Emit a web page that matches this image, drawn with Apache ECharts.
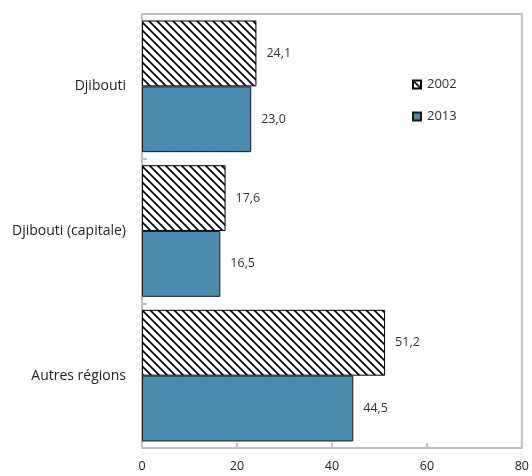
<!DOCTYPE html>
<html><head><meta charset="utf-8">
<script src="https://cdn.jsdelivr.net/npm/echarts@6/dist/echarts.min.js"></script>
<style>html,body{margin:0;padding:0;background:#fff}#c{width:532px;height:476px}</style>
</head><body><div id="c"></div>
<script>
const categories = ['Djibouti', 'Djibouti (capitale)', 'Autres régions'];
const seriesNames = ['2002', '2013'];
const values2002 = [24.1, 17.6, 51.2];
const values2013 = [23.0, 16.5, 44.5];
const xTicks = [0, 20, 40, 60, 80];

function hatch() {
  const s = 8;
  const c = document.createElement('canvas');
  c.width = s; c.height = s;
  const g = c.getContext('2d');
  g.fillStyle = '#fff'; g.fillRect(0, 0, s, s);
  g.strokeStyle = '#000'; g.lineWidth = 1.7;
  g.beginPath();
  g.moveTo(-1, -1); g.lineTo(s + 1, s + 1);
  g.moveTo(-1, s - 1); g.lineTo(1, s + 1);
  g.moveTo(s - 1, -1); g.lineTo(s + 1, 1);
  g.stroke();
  return c;
}
function dots() {
  const s = 22;
  const c = document.createElement('canvas');
  c.width = s; c.height = s;
  const g = c.getContext('2d');
  g.fillStyle = '#4b8bad'; g.fillRect(0, 0, s, s);
  g.fillStyle = '#5a80b0';
  g.fillRect(5, 5, 2, 2);
  g.fillRect(16, 16, 2, 2);
  return c;
}

const chart = echarts.init(document.getElementById('c'));
const labelCfg = {
  show: true, position: 'right', distance: 10,
  color: '#333', fontSize: 12.5, fontFamily: 'Open Sans',
  formatter: p => p.value.toFixed(1).replace('.', ',')
};
chart.setOption({
  animation: false,
  textStyle: { fontFamily: 'Open Sans' },
  grid: { left: 142, right: 10, top: 14, bottom: 28, show: true, borderColor: '#c0c0c0', borderWidth: 2 },
  legend: {
    orient: 'vertical', left: 407, top: 73, itemGap: 19,
    itemWidth: 8, itemHeight: 8, icon: 'rect',
    textStyle: { fontSize: 13, color: '#333', fontFamily: 'Open Sans', padding: [0, 0, 0, 1] },
    data: seriesNames
  },
  xAxis: {
    type: 'value', min: xTicks[0], max: xTicks[xTicks.length - 1], interval: 20,
    axisLine: { show: true, lineStyle: { color: '#c0c0c0', width: 2 } },
    axisTick: { show: true, inside: true, length: 5, lineStyle: { color: '#c0c0c0', width: 2 } },
    splitLine: { show: false },
    axisLabel: { color: '#222', fontSize: 12.5, margin: 12, fontFamily: 'Open Sans' }
  },
  yAxis: {
    type: 'category', data: categories, inverse: true,
    axisLine: { show: true, lineStyle: { color: '#c0c0c0', width: 2 } },
    axisTick: { show: true, inside: true, length: 5, lineStyle: { color: '#c0c0c0', width: 2 } },
    axisLabel: { color: '#222', fontSize: 14, margin: 16, fontFamily: 'Open Sans' }
  },
  series: [
    {
      name: seriesNames[0], type: 'bar', data: values2002,
      barGap: '0%', barCategoryGap: '9%',
      itemStyle: { color: { image: hatch(), repeat: 'repeat' }, borderColor: '#000', borderWidth: 1 },
      label: labelCfg
    },
    {
      name: seriesNames[1], type: 'bar', data: values2013,
      barGap: '0%', barCategoryGap: '9%',
      itemStyle: { color: { image: dots(), repeat: 'repeat' }, borderColor: '#1a1a1a', borderWidth: 1 },
      label: labelCfg
    }
  ]
});
</script></body></html>
